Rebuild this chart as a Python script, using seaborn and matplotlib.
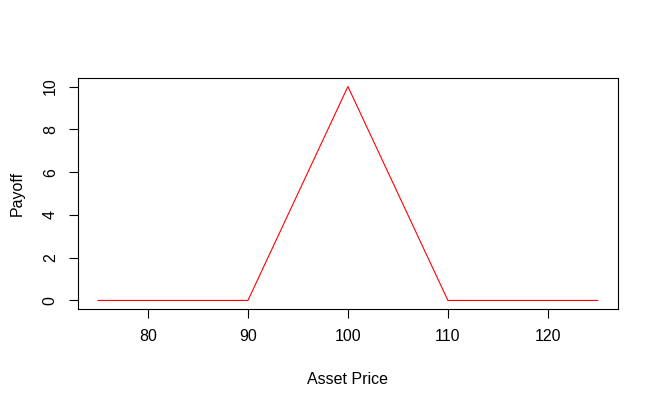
import numpy as np
import pandas as pd
import seaborn as sns
import matplotlib
matplotlib.use("Agg")
import matplotlib.pyplot as plt

# payoff of the butterfly-like position at expiry
asset_price = [75, 90, 100, 110, 125]
payoff = [0, 0, 10, 0, 0]

df = pd.DataFrame({"Asset Price": asset_price, "Payoff": payoff})

sns.set_style("ticks")
plt.rcParams["font.family"] = ["Liberation Sans", "DejaVu Sans"]

fig = plt.figure(figsize=(6.58, 4.07), dpi=100)
ax = fig.add_axes([0.1185, 0.2408, 0.8205, 0.5676])

sns.lineplot(data=df, x="Asset Price", y="Payoff", color="red", linewidth=0.8, ax=ax)

ax.set_xlim(73, 127)
ax.set_ylim(-0.4, 10.4)
ax.set_xticks([80, 90, 100, 110, 120])
ax.set_yticks([0, 2, 4, 6, 8, 10])
for lbl in ax.get_yticklabels():
    lbl.set_rotation(90)
    lbl.set_va("center")

ax.tick_params(axis="both", length=6.5, width=0.8, color="black", labelsize=11.5, pad=8, labelcolor="black")
for s in ax.spines.values():
    s.set_visible(True)
    s.set_color("black")
    s.set_linewidth(0.8)

ax.set_xlabel("Asset Price", fontsize=11.5, labelpad=20, color="black")
ax.set_ylabel("Payoff", fontsize=11.5, labelpad=13, color="black")

fig.savefig("out.png", dpi=100, facecolor="white")
